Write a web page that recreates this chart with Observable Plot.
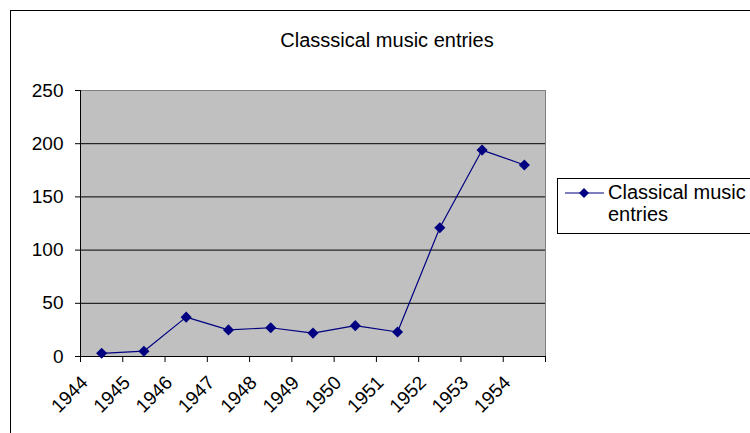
<!DOCTYPE html>
<html>
<head>
<meta charset="utf-8">
<script src="https://cdn.jsdelivr.net/npm/d3@7"></script>
<script src="https://cdn.jsdelivr.net/npm/@observablehq/plot@0.6"></script>
<style>
  html, body { margin: 0; padding: 0; background: #fff; overflow: hidden; }
  #wrap { position: relative; width: 750px; height: 433px; font-family: "Liberation Sans", Arial, sans-serif; }
  #border { position: absolute; left: 10px; top: 10px; width: 800px; height: 500px; border: 1px solid #000; box-sizing: border-box; }
  #title { position: absolute; left: 0; width: 774px; top: 28px; text-align: center; font-size: 20px; line-height: 24px; color: #000; }
  #legend { position: absolute; left: 557px; top: 178px; width: 220px; height: 56px; border: 1px solid #000; box-sizing: border-box; background: #fff; }
  #legend svg { position: absolute; left: 7px; top: 7px; }
  #legend .lbl { position: absolute; left: 50px; top: 2px; font-size: 20px; line-height: 22px; color: #000; white-space: nowrap; }
  #chart { position: absolute; left: 0; top: 0; }
</style>
</head>
<body>
<div id="wrap">
  <div id="chart"></div>
  <div id="border"></div>
  <div id="title">Classsical music entries</div>
  <div id="legend">
    <svg width="40" height="14"><line x1="0" y1="7" x2="39" y2="7" stroke="#000080" stroke-width="1.2"/><path d="M19,2L24,7L19,12L14,7Z" fill="#000080"/></svg>
    <div class="lbl">Classical music<br>entries</div>
  </div>
</div>
<script>
const years = ["1944","1945","1946","1947","1948","1949","1950","1951","1952","1953","1954"];
const entries = [3, 5, 37, 25, 27, 22, 29, 23, 121, 194, 180];
const yTicks = [0, 50, 100, 150, 200, 250];
const gridLines = [50, 100, 150, 200];

const data = years.map((y, i) => ({year: y, idx: i + 0.5, value: entries[i]}));
const boundaries = d3.range(years.length + 1);

const chart = Plot.plot({
  width: 750,
  height: 433,
  marginLeft: 80,
  marginRight: 205,
  marginTop: 90,
  marginBottom: 77,
  style: {fontFamily: "Liberation Sans, Arial, sans-serif", fontSize: "19px", color: "#000", background: "transparent", overflow: "visible"},
  x: {type: "linear", domain: [0, years.length]},
  y: {type: "linear", domain: [0, 250]},
  marks: [
    Plot.frame({fill: "#C0C0C0", stroke: null}),
    Plot.ruleY(gridLines, {stroke: "#000", strokeWidth: 1}),
    Plot.frame({anchor: "top", stroke: "#808080"}),
    Plot.frame({anchor: "right", stroke: "#808080"}),
    Plot.axisY({ticks: yTicks, tickSize: 5, tickPadding: 12, label: null, fontSize: 19}),
    Plot.frame({anchor: "left", stroke: "#000"}),
    Plot.axisX({ticks: boundaries, tickSize: 6, tickFormat: () => "", label: null}),
    Plot.axisX({ticks: data.map(d => d.idx), tickSize: 0, tickRotate: -45, tickPadding: 23, dx: -17, tickFormat: (d) => years[Math.round(d - 0.5)], label: null, fontSize: 19}),
    Plot.frame({anchor: "bottom", stroke: "#000"}),
    Plot.line(data, {x: "idx", y: "value", stroke: "#000080", strokeWidth: 1.2}),
    Plot.dot(data, {x: "idx", y: "value", symbol: "diamond2", r: 5, fill: "#000080", stroke: "none"})
  ]
});
document.getElementById("chart").appendChild(chart);
</script>
</body>
</html>
